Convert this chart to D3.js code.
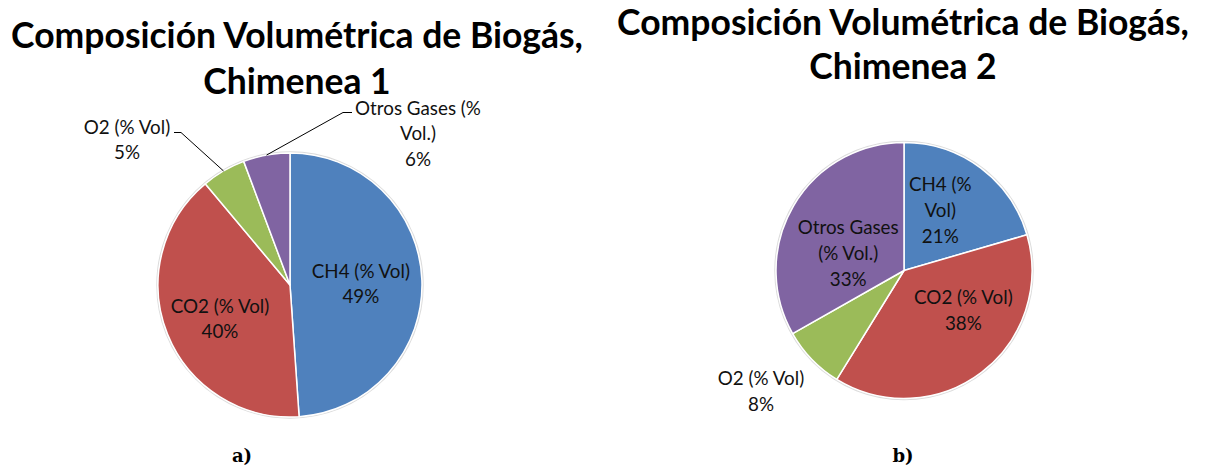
<!DOCTYPE html>
<html><head><meta charset="utf-8">
<script src="https://cdn.jsdelivr.net/npm/d3@7"></script>
<style>
body{margin:0;background:#fff;}
svg{display:block;}
</style></head>
<body>
<svg id="chart" width="1207" height="469"></svg>
<script>
// ---- data ----
const categories = ["CH4 (% Vol)", "CO2 (% Vol)", "O2 (% Vol)", "Otros Gases (% Vol.)"];
const chimenea1 = [48.9, 40.0, 5.4, 5.7];
const chimenea2 = [20.5, 38.3, 8.0, 33.2];
const labels1 = [["CH4 (% Vol)", "49%"], ["CO2 (% Vol)", "40%"], ["O2 (% Vol)", "5%"], ["Otros Gases (%", "Vol.)", "6%"]];
const labels2 = [["CH4 (%", "Vol)", "21%"], ["CO2 (% Vol)", "38%"], ["O2 (% Vol)", "8%"], ["Otros Gases", "(% Vol.)", "33%"]];
const titles = [["Composición Volumétrica de Biogás,", "Chimenea 1"], ["Composición Volumétrica de Biogás,", "Chimenea 2"]];
const panelTags = ["a)", "b)"];
const colors = ["#4F81BD", "#C0504D", "#9BBB59", "#8064A2"];

// ---- layout ----
const panels = [
  { values: chimenea1, labels: labels1, title: titles[0], tag: panelTags[0],
    cx: 290, cy: 285, r: 132, titleX: 297, titleY: [48, 94], tagX: 242, tagY: 462, lineH: 25.5,
    place: [
      {k: 0.56, dx: -3, dy: 1.5},
      {k: 0.58, dx: 1, dy: 5.5},
      {outside: true, x: 127, y: 127, lead: [[174, 132.5], [181, 132.5]]},
      {outside: true, x: 418, y: 108, lead: [[352, 112.5], [343, 112.5]]}
    ]},
  { values: chimenea2, labels: labels2, title: titles[1], tag: panelTags[1],
    cx: 904, cy: 270.5, r: 128, titleX: 903, titleY: [35, 79], tagX: 903, tagY: 462, lineH: 26,
    place: [
      {k: 0.55, dx: -6, dy: -3.5},
      {k: 0.56, dx: 16, dy: -17},
      {outside: true, x: 761, y: 378.5},
      {k: 0.55, dx: 5, dy: 18.5}
    ]}
];

const svg = d3.select("#chart");
const labelFont = "Lato, 'Open Sans', sans-serif";

panels.forEach(p => {
  const g = svg.append("g").attr("transform", `translate(${p.cx},${p.cy})`);
  const pie = d3.pie().sort(null).value(d => d);
  const arcs = pie(p.values);
  const arc = d3.arc().innerRadius(0).outerRadius(p.r);
  const lineH = p.lineH;

  g.append("circle").attr("r", p.r + 1).attr("fill", "none")
    .attr("stroke", "#dcdcdc").attr("stroke-width", 1.5);

  g.selectAll("path.slice").data(arcs).join("path")
    .attr("class", "slice")
    .attr("d", arc)
    .attr("fill", (d, i) => colors[i])
    .attr("stroke", "#fff").attr("stroke-width", 1.5).attr("stroke-linejoin", "round");

  arcs.forEach((a, i) => {
    const pl = p.place[i];
    const lines = p.labels[i];
    let x, y;
    if (pl.outside) {
      x = pl.x - p.cx; y = pl.y - p.cy;
      if (pl.lead) {
        const edge = d3.arc().innerRadius(p.r).outerRadius(p.r).centroid(a);
        const pts = [[pl.lead[0][0] - p.cx, pl.lead[0][1] - p.cy], [pl.lead[1][0] - p.cx, pl.lead[1][1] - p.cy], edge];
        g.append("path").attr("d", d3.line()(pts)).attr("fill", "none")
          .attr("stroke", "#000").attr("stroke-width", 1);
      }
    } else {
      const c = d3.arc().innerRadius(p.r * pl.k).outerRadius(p.r * pl.k).centroid(a);
      x = c[0] + pl.dx; y = c[1] + pl.dy - (lines.length - 1) * lineH / 2;
    }
    const t = g.append("text").attr("text-anchor", "middle")
      .attr("font-family", labelFont).attr("font-size", 18.8).attr("fill", "#111");
    lines.forEach((ln, j) => {
      t.append("tspan").attr("x", x).attr("y", y + j * lineH).attr("dy", "0.35em").text(ln);
    });
  });

  const tt = svg.append("text").attr("text-anchor", "middle")
    .attr("font-family", "Lato, 'Open Sans', sans-serif").attr("font-weight", 700)
    .attr("font-size", 35.5).attr("fill", "#000");
  p.title.forEach((ln, j) => {
    tt.append("tspan").attr("x", p.titleX).attr("y", p.titleY[j]).text(ln);
  });

  svg.append("text").attr("x", p.tagX).attr("y", p.tagY).attr("text-anchor", "middle")
    .attr("font-family", "'DejaVu Serif', serif").attr("font-weight", 700)
    .attr("font-size", 18).attr("fill", "#000").text(p.tag);
});
</script>
</body></html>
